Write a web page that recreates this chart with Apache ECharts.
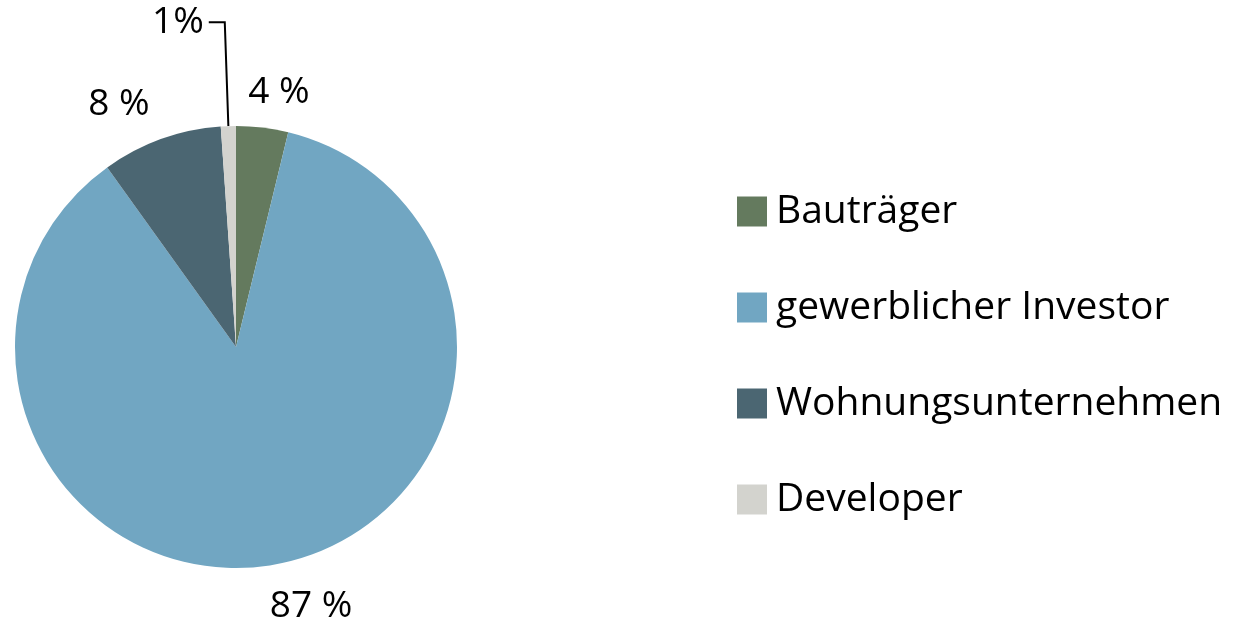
<!DOCTYPE html>
<html><head><meta charset="utf-8">
<script src="https://cdn.jsdelivr.net/npm/echarts@6/dist/echarts.min.js"></script>
<style>html,body{margin:0;padding:0;background:#fff}#c{width:1239px;height:623px}</style>
</head><body><div id="c"></div>
<script>
const categories = ["Bauträger", "gewerblicher Investor", "Wohnungsunternehmen", "Developer"];
const values = [3.8, 86.3, 8.8, 1.1];
const labelTexts = ["4 %", "87 %", "8 %", "1%"];
const colors = ["#647A5E", "#71A6C2", "#4B6672", "#D3D3CE"];

const FONT = "Open Sans";
const chart = echarts.init(document.getElementById('c'));
const labelPos = [[279, 92], [311, 606], [119, 104], null];
chart.setOption({
  animation: false,
  legend: {
    orient: 'vertical', left: 732, top: 187,
    itemWidth: 30, itemHeight: 30, itemGap: 57,
    icon: 'rect',
    textStyle: { fontFamily: FONT, fontSize: 39, color: '#000', padding: [0, 0, 0, 4] },
    data: categories
  },
  series: [{
    type: 'pie',
    center: [236, 347], radius: 221,
    startAngle: 90, clockwise: true,
    silent: true,
    data: categories.map((n, i) => ({
      name: n, value: values[i],
      itemStyle: { color: colors[i] },
      labelLine: { show: i === 3 }
    })),
    label: {
      show: true, position: 'outside', overflow: 'none', edgeDistance: 0,
      formatter: p => labelTexts[p.dataIndex],
      fontFamily: FONT, fontSize: 37, color: '#000'
    },
    labelLine: { show: true, length: 104, length2: 16, smooth: false,
      lineStyle: { color: '#000', width: 2 } },
    labelLayout: function (p) {
      const pos = labelPos[p.dataIndex];
      if (!pos) return {};
      return { x: pos[0], y: pos[1], align: 'center', verticalAlign: 'middle' };
    }
  }]
});
</script></body></html>
